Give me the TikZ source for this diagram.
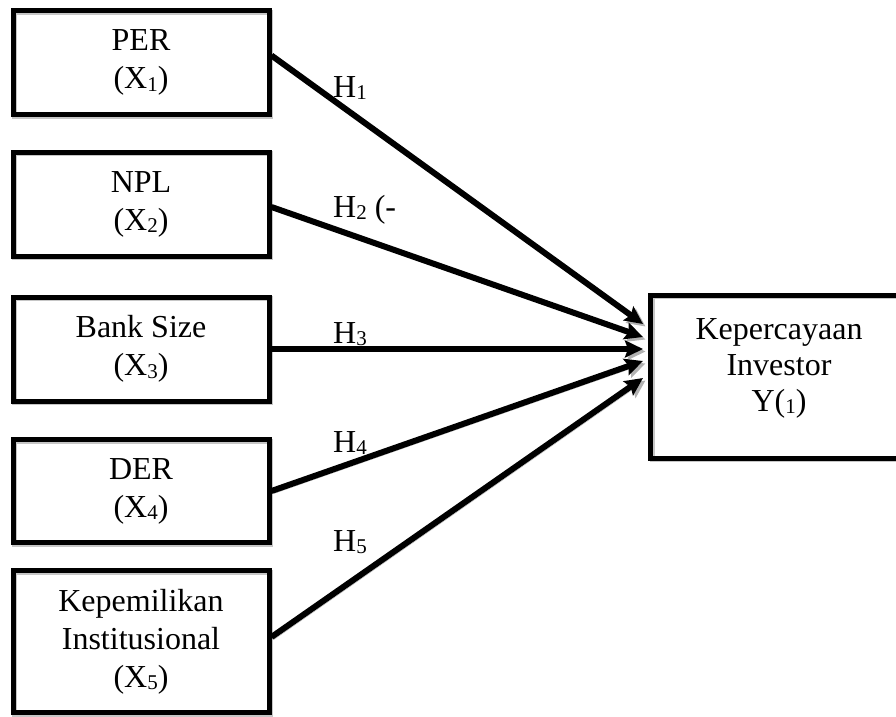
\documentclass[tikz,border=0pt]{standalone}
\usepackage{fontspec}
\setmainfont{Liberation Serif}
\usetikzlibrary{arrows.meta}
\newcommand{\lowsub}[1]{\raisebox{-2.5pt}{\fontsize{21}{21}\selectfont #1}}

\begin{document}
\begin{tikzpicture}[x=1pt,y=-1pt,
    font=\fontsize{32}{38}\selectfont,
    varbox/.style={draw, line width=5pt, minimum width=256pt, minimum height=104pt,
      align=center, inner sep=0pt,
      preaction={draw=gray!45, line width=5pt, transform canvas={shift={(1.5,1.5)}}}},
    hyp/.style={line width=6pt, -{Stealth[length=18pt,width=17pt,inset=3pt]},
      preaction={draw=gray!60, transform canvas={shift={(2.5,2.5)}}}},
    hlabel/.style={anchor=base west, inner sep=0pt}]
    \path[use as bounding box, clip] (0, 0) rectangle (896, 716);
    % independent variables
    \node[varbox] (per) at (141, 62.5) {PER\\(X\lowsub{1})};
    \node[varbox] (npl) at (141, 204) {NPL\\(X\lowsub{2})};
    \node[varbox] (size) at (141, 349) {Bank Size\\(X\lowsub{3})};
    \node[varbox, minimum height=103pt] (der) at (141, 491) {DER\\(X\lowsub{4})};
    \node[varbox, minimum height=142pt] (inst) at (141, 641.5) {Kepemilikan\\Institusional\\(X\lowsub{5})};
    % dependent variable
    \node[varbox, minimum width=270pt, minimum height=163pt] (y) at (785.5, 376.5) {};
    \node[align=center, font=\fontsize{32}{36}\selectfont] (ytext) at (779, 368) {Kepercayaan\\Investor\\Y(\lowsub{1})};
    % arrow ends
    \coordinate (t1) at (643, 324);
    \coordinate (t2) at (643, 337);
    \coordinate (t3) at (643, 349);
    \coordinate (t4) at (643, 361);
    \coordinate (t5) at (643, 378);
    \draw[hyp] ([yshift=7pt]per.east) -- (t1);
    \draw[hyp] ([yshift=-3pt]npl.east) -- (t2);
    \draw[hyp] (size.east) -- (t3);
    \draw[hyp] (der.east) -- (t4);
    \draw[hyp] ([yshift=4.5pt]inst.east) -- (t5);
    % hypotheses
    \node[hlabel] (h1) at (333, 97) {H\lowsub{1}};
    \node[hlabel] (h2) at (333, 217) {H\lowsub{2} (-};
    \node[hlabel] (h3) at (333, 343) {H\lowsub{3}};
    \node[hlabel] (h4) at (333, 452) {H\lowsub{4}};
    \node[hlabel] (h5) at (333, 551) {H\lowsub{5}};
\end{tikzpicture}
\end{document}
